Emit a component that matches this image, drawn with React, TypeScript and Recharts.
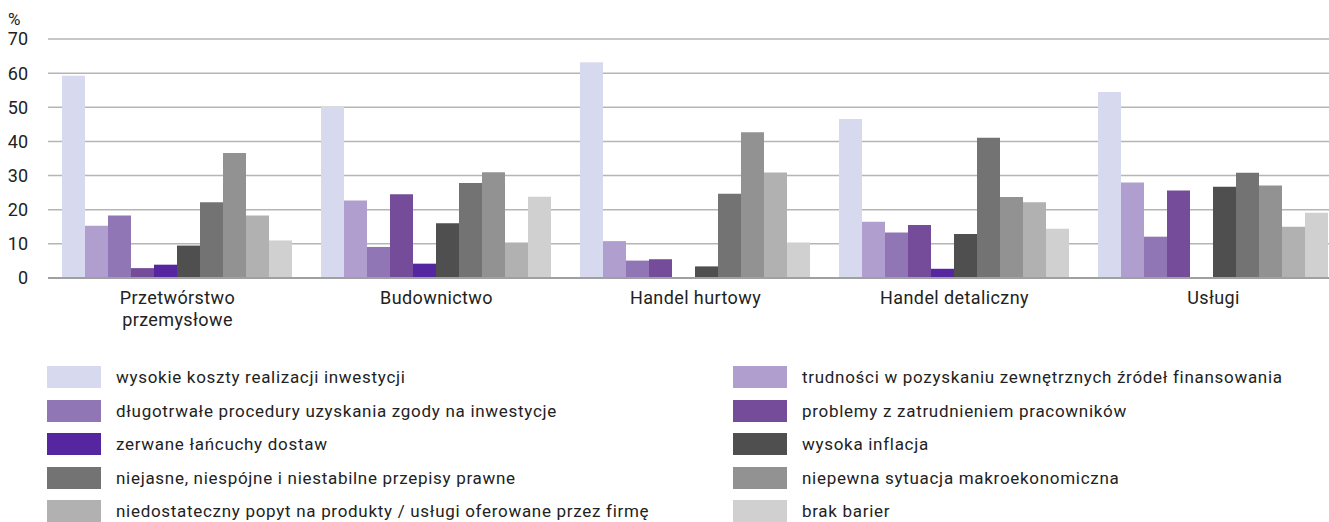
import React from "react";
import { BarChart, Bar, XAxis, YAxis, CartesianGrid } from "recharts";

const categories = [
  "Przetwórstwo\nprzemysłowe",
  "Budownictwo",
  "Handel hurtowy",
  "Handel detaliczny",
  "Usługi",
];

const seriesNames = [
  "wysokie koszty realizacji inwestycji",
  "trudności w pozyskaniu zewnętrznych źródeł finansowania",
  "długotrwałe procedury uzyskania zgody na inwestycje",
  "problemy z zatrudnieniem pracowników",
  "zerwane łańcuchy dostaw",
  "wysoka inflacja",
  "niejasne, niespójne i niestabilne przepisy prawne",
  "niepewna sytuacja makroekonomiczna",
  "niedostateczny popyt na produkty / usługi oferowane przez firmę",
  "brak barier",
];

const seriesColors = [
  "#d7d9ee",
  "#b09fce",
  "#9176b5",
  "#754c9a",
  "#5626a0",
  "#4f4f4f",
  "#737373",
  "#929292",
  "#b1b1b1",
  "#d0d0d0",
];

// values per series, in category order
const s1 = [59.2, 50.1, 63.2, 46.6, 54.5];
const s2 = [15.3, 22.7, 10.8, 16.5, 28.0];
const s3 = [18.3, 9.1, 5.1, 13.3, 12.1];
const s4 = [2.9, 24.5, 5.5, 15.5, 25.6];
const s5 = [3.9, 4.2, 0, 2.7, 0];
const s6 = [9.5, 16.0, 3.4, 12.9, 26.7];
const s7 = [22.2, 27.8, 24.7, 41.1, 30.8];
const s8 = [36.6, 31.0, 42.7, 23.7, 27.1];
const s9 = [18.3, 10.4, 30.9, 22.2, 15.0];
const s10 = [11.0, 23.8, 10.4, 14.4, 19.1];

const seriesValues = [s1, s2, s3, s4, s5, s6, s7, s8, s9, s10];

const yTicks = [0, 10, 20, 30, 40, 50, 60, 70];

const data = categories.map((c, i) => {
  const row: Record<string, number | string> = { name: c };
  seriesValues.forEach((vals, k) => {
    row["s" + k] = vals[i];
  });
  return row;
});

const FONT = "Roboto, 'Noto Sans', sans-serif";

const XTick = (props: any) => {
  const { x, y, payload } = props;
  const lines = String(payload.value).split("\n");
  return (
    <text
      x={x}
      y={y}
      textAnchor="middle"
      fill="#222"
      fontSize={18}
      fontFamily={FONT}
      letterSpacing={0.4}
    >
      {lines.map((l, i) => (
        <tspan key={i} x={x} dy={i === 0 ? 26 : 22}>
          {l}
        </tspan>
      ))}
    </text>
  );
};

const legendOrder = [0, 2, 4, 6, 8, 1, 3, 5, 7, 9];

export default function App() {
  return (
    <div
      style={{
        position: "absolute",
        left: 0,
        top: 0,
        width: 1329,
        height: 522,
        overflow: "hidden",
        background: "#fff",
        fontFamily: FONT,
      }}
    >
      <div
        style={{
          position: "absolute",
          left: 8,
          top: 9,
          fontSize: 17,
          color: "#222",
          lineHeight: "20px",
        }}
      >
        %
      </div>
      <div style={{ position: "absolute", left: 0, top: 0 }}>
        <BarChart
          width={1343}
          height={360}
          data={data}
          margin={{ top: 39, right: 0, bottom: 22, left: 0 }}
          barCategoryGap={14}
          barGap={0}
        >
          <CartesianGrid
            vertical={false}
            stroke="#b5b5b5"
            strokeWidth={1.5}
          />
          <XAxis
            dataKey="name"
            axisLine={{ stroke: "#a0a0a0", strokeWidth: 2 }}
            tickLine={false}
            tickSize={0}
            tickMargin={0}
            interval={0}
            height={60}
            tick={<XTick />}
          />
          <YAxis
            domain={[0, 70]}
            ticks={yTicks}
            width={48}
            axisLine={false}
            tickLine={false}
            tickSize={0}
            tickMargin={20}
            tick={{ fill: "#222", fontSize: 18, fontFamily: FONT }}
          />
          {seriesNames.map((n, k) => (
            <Bar
              key={k}
              dataKey={"s" + k}
              name={n}
              fill={seriesColors[k]}
              isAnimationActive={false}
            />
          ))}
        </BarChart>
      </div>
      {legendOrder.map((k, idx) => {
        const col = idx < 5 ? 0 : 1;
        const row = idx % 5;
        return (
          <div
            key={k}
            style={{
              position: "absolute",
              left: col === 0 ? 47 : 733,
              top: 366 + row * 33.5,
              height: 22,
              display: "flex",
              alignItems: "center",
              whiteSpace: "nowrap",
            }}
          >
            <div
              style={{
                width: 54,
                height: 22,
                background: seriesColors[k],
                marginRight: 15,
              }}
            />
            <span
              style={{
                fontSize: 17,
                lineHeight: "18px",
                color: "#222",
                letterSpacing: 0.7,
              }}
            >
              {seriesNames[k]}
            </span>
          </div>
        );
      })}
    </div>
  );
}
